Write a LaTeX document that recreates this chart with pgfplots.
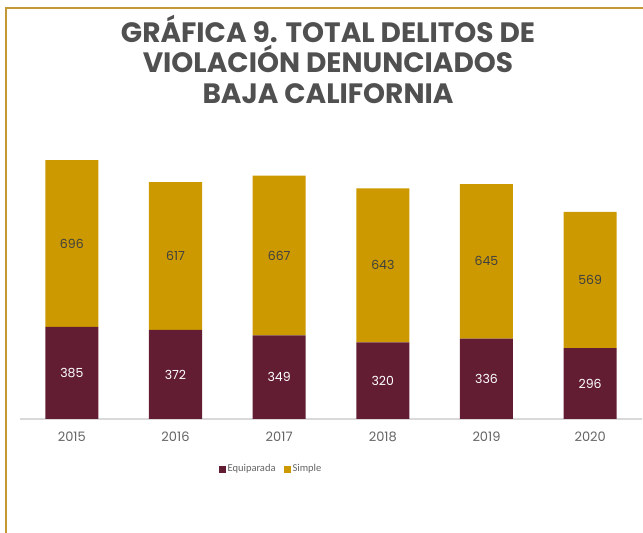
\documentclass[border=0pt]{standalone}
\usepackage{fontspec}
\setmainfont{Poppins}
\newfontfamily\legfont{Carlito}
\usepackage{pgfplots}
\usepackage{pgfplotstable}
\pgfplotsset{compat=1.18}
\definecolor{maroon}{RGB}{98,29,51}
\definecolor{gold}{RGB}{204,153,0}
\definecolor{framegold}{RGB}{196,152,52}
\definecolor{titlegray}{RGB}{80,80,80}
\definecolor{tickgray}{RGB}{100,100,100}
\definecolor{lblgray}{RGB}{64,64,64}
\pgfplotstableread{
x year equi simple
0 2015 385 696
1 2016 372 617
2 2017 349 667
3 2018 320 643
4 2019 336 645
5 2020 296 569
}\data
\begin{document}
\begin{tikzpicture}
\useasboundingbox (0pt,0pt) rectangle (643pt,533pt);
\draw[framegold, line width=2pt] (6pt,0pt) -- (6pt,525pt) -- (643pt,525pt);
\node[align=center, text=titlegray, font=\fontsize{28}{30.5}\selectfont\bfseries] at (328pt,474pt)
  {GRÁFICA 9. TOTAL DELITOS DE\\VIOLACIÓN DENUNCIADOS\\BAJA CALIFORNIA};
\begin{axis}[
  at={(20pt,114pt)}, anchor=south west,
  scale only axis, width=622pt, height=269pt,
  ybar stacked, bar width=53pt,
  xmin=-0.5, xmax=5.5, ymin=0, ymax=1123,
  axis y line=none, axis x line*=bottom,
  x axis line style={draw=black!15, line width=1.2pt, -},
  xtick=data, xticklabels={2015,2016,2017,2018,2019,2020},
  xtick style={draw=none},
  xticklabel style={font=\fontsize{13}{15}\selectfont, text=tickgray, yshift=-9pt},
  point meta=explicit,
  nodes near coords={\pgfmathprintnumber[assume math mode=true]{\pgfplotspointmeta}},
  every node near coord/.append style={font=\fontsize{12.5}{14}\selectfont},
  legend style={at={(0.4035,-0.186)}, anchor=center, legend columns=2, draw=none,
    font=\legfont\fontsize{10.5}{12}\selectfont, text=tickgray,
    /tikz/every even column/.append style={column sep=6pt}},
  legend image code/.code={\fill[#1] (0pt,-3.5pt) rectangle (7pt,3.5pt);},
]
\addplot[fill=maroon, draw=none, nodes near coords style={text=white}]
  table[x=x, y=equi, meta=equi] {\data};
\addlegendentry{Equiparada}
\addplot[fill=gold, draw=none, nodes near coords style={text=lblgray}]
  table[x=x, y=simple, meta=simple] {\data};
\addlegendentry{Simple}
\end{axis}
\end{tikzpicture}
\end{document}
